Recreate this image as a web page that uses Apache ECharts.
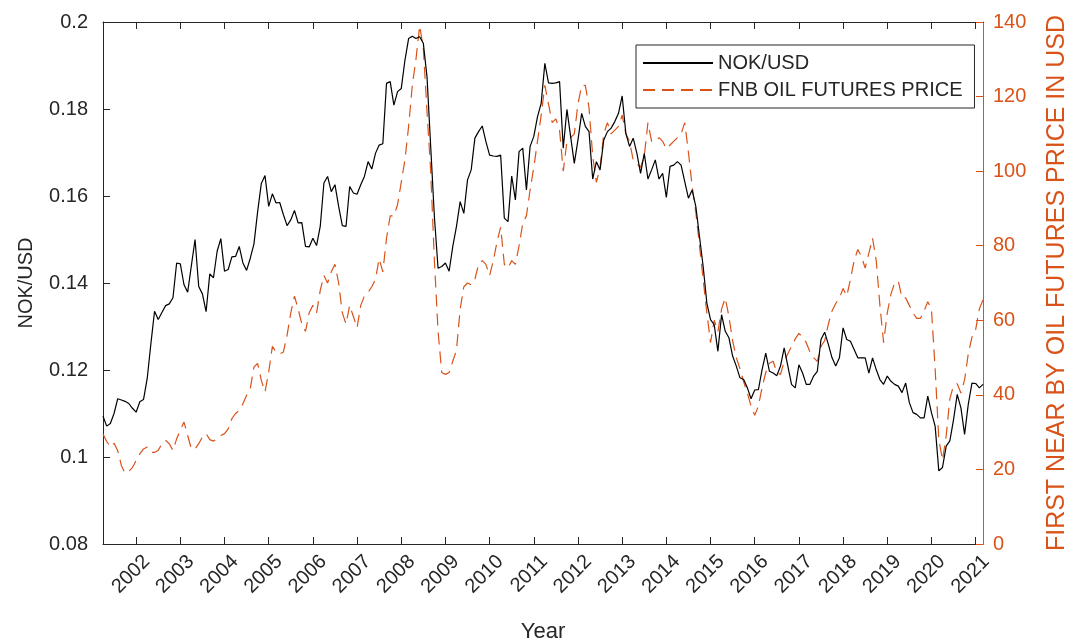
<!DOCTYPE html>
<html>
<head>
<meta charset="utf-8">
<script src="https://cdn.jsdelivr.net/npm/echarts@6/dist/echarts.min.js"></script>
<style>
html,body{margin:0;padding:0;background:#fff;}
#chart{width:1077px;height:641px;}
</style>
</head>
<body>
<div id="chart"></div>
<script>
// Monthly data, April 2001 .. March 2021
var startYear = 2001, startMonth = 4, monthCount = 240;

var nokUsd = [
0.1094,0.1071,0.1077,0.1100,0.1134,0.1131,0.1128,0.1123,0.1112,
0.1103,0.1127,0.1132,0.1180,0.1260,0.1335,0.1316,0.1332,0.1348,0.1352,0.1366,0.1446,
0.1444,0.1396,0.1379,0.1440,0.1500,0.1392,0.1375,0.1334,0.1421,0.1412,0.1473,0.1502,
0.1427,0.1431,0.1460,0.1461,0.1484,0.1446,0.1429,0.1457,0.1490,0.1564,0.1629,0.1647,
0.1576,0.1605,0.1584,0.1585,0.1557,0.1532,0.1545,0.1567,0.1538,0.1539,0.1484,0.1483,
0.1503,0.1486,0.1530,0.1630,0.1645,0.1610,0.1626,0.1576,0.1532,0.1530,0.1622,0.1607,
0.1604,0.1626,0.1645,0.1679,0.1662,0.1698,0.1717,0.1720,0.1859,0.1863,0.1809,0.1840,
0.1847,0.1912,0.1962,0.1967,0.1962,0.1966,0.1951,0.1874,0.1714,0.1553,0.1434,0.1438,
0.1446,0.1427,0.1484,0.1530,0.1587,0.1560,0.1637,0.1660,0.1733,0.1748,0.1761,0.1725,
0.1694,0.1692,0.1691,0.1694,0.1549,0.1541,0.1646,0.1591,0.1702,0.1710,0.1614,0.1714,
0.1737,0.1782,0.1813,0.1905,0.1860,0.1859,0.1860,0.1863,0.1710,0.1799,0.1737,0.1675,
0.1729,0.1790,0.1760,0.1748,0.1639,0.1679,0.1660,0.1729,0.1748,0.1756,0.1771,0.1790,
0.1830,0.1744,0.1714,0.1733,0.1698,0.1652,0.1698,0.1639,0.1660,0.1683,0.1639,0.1652,
0.1597,0.1668,0.1671,0.1679,0.1671,0.1633,0.1595,0.1614,0.1576,0.1507,0.1438,0.1354,
0.1316,0.1304,0.1243,0.1327,0.1289,0.1274,0.1232,0.1209,0.1182,0.1178,0.1159,0.1134,
0.1154,0.1155,0.1201,0.1239,0.1197,0.1193,0.1187,0.1209,0.1251,0.1209,0.1167,0.1159,
0.1212,0.1193,0.1167,0.1167,0.1186,0.1197,0.1270,0.1287,0.1259,0.1228,0.1209,0.1228,
0.1297,0.1270,0.1266,0.1247,0.1228,0.1228,0.1228,0.1193,0.1228,0.1201,0.1178,0.1167,
0.1186,0.1174,0.1167,0.1163,0.1148,0.1170,0.1125,0.1102,0.1098,0.1090,0.1090,0.1140,
0.1102,0.1071,0.0968,0.0976,0.1025,0.1037,0.1086,0.1144,0.1113,0.1052,0.1121,0.1170,
0.1169,0.1159,0.1167
];

var oilPrice = [
29.5,27.5,26,27,25,21,19,19.5,20.5,
22.4,24.2,25.5,26,24.6,24.6,25.1,26.9,27.8,26.9,25.1,28.2,
30.5,32.7,29.1,25.5,25.5,26.9,28.7,29.6,28,27.6,28.2,29.1,
29.6,30.9,33.6,35,35.8,37.6,39.9,41.7,47.5,48.4,43.9,40.8,
46.1,53,51.5,51,51.5,56,62,66.5,63,59,57,62,
64,62,68,72,70,73,75,70,62,59,64,61,
58,64,66.5,67.5,69,71,76.5,73,82,88,88,91,
97,103,112,123,130,139,133,116,100,76,57,46,
45.5,46,49,52,63,69,70,69.5,71,75,76,75,
72,76,81,85,75,74,76,75,80,86,88,95,
101,108,115,123,118,113,114,111,100,108,109,110,
118,123,123,117,104,97,101,110,113,110,111,112,
115,110,108,103,102,101,104,113,108,108,109,108,
106,107,108,109,110,113,105,96,89,80,71,62,
54,60,57,63,66,61,54.5,50,47,43.5,40.5,37,
34.5,37,42,46,48.5,49,46,45.5,49,51,53,55,
56.5,55.5,54,51.5,50,49,53,54.5,59,62.5,64.5,66,
68.5,66.5,71,76,79,77,74,78,82,76,64,54,
62,67,70,70.5,66,66,64,62,60.5,60.5,62.5,65,
63,47,28,22.5,29,39,42.5,43,40.5,44,51,55.5,
57.5,63,65.5
];

var leftTicks = [0.08, 0.10, 0.12, 0.14, 0.16, 0.18, 0.20];
var rightTicks = [0, 20, 40, 60, 80, 100, 120, 140];

var seriesNames = ['NOK/USD', 'FNB OIL FUTURES PRICE'];
var axisNames = { x: 'Year', left: 'NOK/USD', right: 'FIRST NEAR BY OIL FUTURES PRICE IN USD' };

var months = [];
for (var i = 0; i < monthCount; i++) {
  var m = startMonth - 1 + i;
  var y = startYear + Math.floor(m / 12);
  var mm = (m % 12) + 1;
  months.push(y + '-' + (mm < 10 ? '0' + mm : mm));
}
function isJan(idx, val) { return String(val).slice(5) === '01'; }

var FONT = '"Liberation Sans", Arial, Helvetica, sans-serif';
var DARK = '#262626';
var ORANGE = '#D95319';

var chart = echarts.init(document.getElementById('chart'), null, { renderer: 'canvas' });
chart.setOption({
  animation: false,
  backgroundColor: '#ffffff',
  textStyle: { fontFamily: FONT },
  grid: { left: 103, right: 94, top: 22, bottom: 97, containLabel: false, outerBoundsMode: 'none' },
  legend: {
    orient: 'vertical',
    left: 636, top: 45,
    padding: [8, 12, 8, 6],
    itemGap: 7,
    itemWidth: 70, itemHeight: 14,
    borderColor: DARK, borderWidth: 1,
    backgroundColor: '#ffffff',
    itemStyle: { opacity: 0 },
    textStyle: { fontFamily: FONT, fontSize: 20, color: DARK },
    data: seriesNames
  },
  xAxis: [{
    type: 'category',
    data: months,
    boundaryGap: false,
    name: axisNames.x,
    nameLocation: 'middle',
    nameGap: 77,
    nameTextStyle: { fontFamily: FONT, fontSize: 22, color: DARK },
    axisLine: { lineStyle: { color: DARK, width: 1 } },
    axisTick: { inside: true, length: 7, interval: isJan, lineStyle: { color: DARK } },
    axisLabel: {
      interval: isJan,
      rotate: 45,
      fontSize: 20,
      color: DARK,
      margin: 4,
      verticalAlign: 'top',
      padding: [5, 0, 0, 0],
      formatter: function (v) { return v.slice(0, 4); }
    },
    splitLine: { show: false }
  }, {
    type: 'category',
    data: months,
    boundaryGap: false,
    position: 'top',
    axisLine: { lineStyle: { color: DARK, width: 1 } },
    axisTick: { inside: true, length: 7, interval: isJan, lineStyle: { color: DARK } },
    axisLabel: { show: false },
    splitLine: { show: false }
  }],
  yAxis: [{
    type: 'value',
    min: leftTicks[0], max: leftTicks[leftTicks.length - 1], interval: 0.02,
    position: 'left',
    name: axisNames.left,
    nameLocation: 'middle',
    nameRotate: 90,
    nameGap: 67,
    nameTextStyle: { fontFamily: FONT, fontSize: 20, color: DARK },
    axisLine: { show: true, lineStyle: { color: DARK, width: 1 } },
    axisTick: { show: true, inside: true, length: 7, lineStyle: { color: DARK } },
    axisLabel: {
      fontSize: 20, color: DARK, margin: 15,
      formatter: function (v) { return String(+v.toFixed(2)); }
    },
    splitLine: { show: false }
  }, {
    type: 'value',
    min: rightTicks[0], max: rightTicks[rightTicks.length - 1], interval: 20,
    position: 'right',
    name: axisNames.right,
    nameLocation: 'middle',
    nameRotate: 90,
    nameGap: 62,
    nameTextStyle: { fontFamily: FONT, fontSize: 25, color: ORANGE },
    axisLine: { show: true, lineStyle: { color: ORANGE, width: 1 } },
    axisTick: { show: true, inside: true, length: 7, lineStyle: { color: ORANGE } },
    axisLabel: { fontSize: 20, color: ORANGE, margin: 10 },
    splitLine: { show: false }
  }],
  series: [{
    name: seriesNames[0],
    type: 'line',
    xAxisIndex: 0, yAxisIndex: 0,
    data: nokUsd,
    symbol: 'none',
    smooth: false,
    lineStyle: { color: '#000000', width: 1.2 },
    itemStyle: { color: '#000000' },
    z: 3
  }, {
    name: seriesNames[1],
    type: 'line',
    xAxisIndex: 0, yAxisIndex: 1,
    data: oilPrice,
    symbol: 'none',
    smooth: false,
    lineStyle: { color: ORANGE, width: 1.2, type: [12, 7] },
    itemStyle: { color: ORANGE },
    z: 2
  }]
});
</script>
</body>
</html>
